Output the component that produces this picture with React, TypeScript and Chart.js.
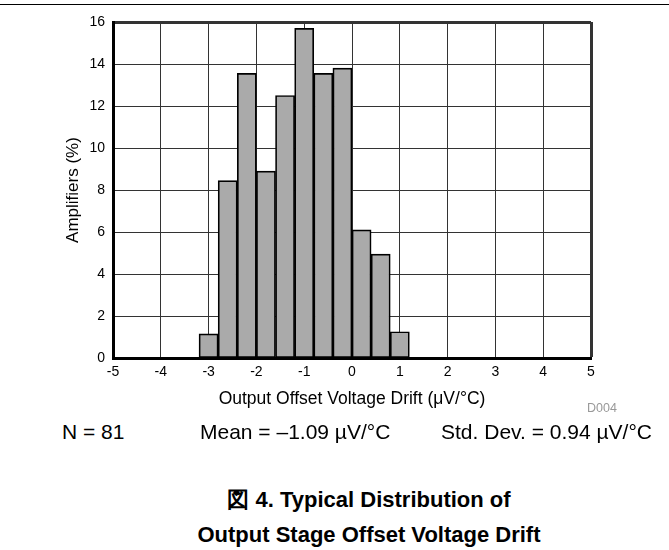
import React, { useEffect, useRef } from "react";
import { Chart, registerables } from "chart.js";

Chart.register(...registerables);

const binCenters = [-3.0, -2.6, -2.2, -1.8, -1.4, -1.0, -0.6, -0.2, 0.2, 0.6, 1.0];
const amplifiersPct = [1.15, 8.45, 13.55, 8.9, 12.5, 15.7, 13.55, 13.8, 6.1, 4.95, 1.25];
const xMin = -5;
const xMax = 5;
const yMin = 0;
const yMax = 16;

const statN = "N = 81";
const statMean = "Mean = \u20131.09 \u00b5V/\u00b0C";
const statStd = "Std. Dev. = 0.94 \u00b5V/\u00b0C";
const captionLines = ["\u56f3 4. Typical Distribution of", "Output Stage Offset Voltage Drift"];

const FONT = "'Liberation Sans', Arial, Helvetica, sans-serif";
const CANVAS_H = 420;

export default function App() {
  const ref = useRef<HTMLCanvasElement | null>(null);

  useEffect(() => {
    if (!ref.current) return;
    const chart = new Chart(ref.current, {
      type: "bar",
      data: {
        datasets: [
          {
            data: binCenters.map((x, i) => ({ x, y: amplifiersPct[i] })),
            backgroundColor: "#aaaaaa",
            borderColor: "#000000",
            borderWidth: 1.7,
            borderSkipped: false,
            barPercentage: 1,
            categoryPercentage: 1,
          } as any,
        ],
      },
      options: {
        animation: false,
        responsive: false,
        maintainAspectRatio: false,
        layout: { padding: { left: 0, right: 78, top: 22, bottom: 0 } },
        plugins: { legend: { display: false }, tooltip: { enabled: false } },
        scales: {
          x: {
            type: "linear",
            min: xMin,
            max: xMax,
            offset: false,
            afterFit: (s: any) => {
              s.height = CANVAS_H - 358;
            },
            ticks: {
              stepSize: 1,
              color: "#000",
              padding: 6,
              maxRotation: 0,
              font: { family: FONT, size: 14 },
              callback: (v: any) => String(v),
            },
            grid: {
              offset: false,
              drawTicks: false,
              color: "#333",
              lineWidth: (c: any) => (c.tick && c.tick.value === xMax ? 3 : 1),
            },
            border: { color: "#000", width: 3 },
            title: {
              display: true,
              text: "Output Offset Voltage Drift (\u03bcV/\u00b0C)",
              color: "#000",
              font: { family: FONT, size: 17.5 },
              padding: { top: 0, bottom: 10 },
            },
          },
          y: {
            type: "linear",
            min: yMin,
            max: yMax,
            afterFit: (s: any) => {
              s.width = 113;
            },
            ticks: {
              stepSize: 2,
              color: "#000",
              padding: 8,
              font: { family: FONT, size: 14 },
            },
            grid: {
              drawTicks: false,
              color: "#333",
              lineWidth: (c: any) => (c.tick && c.tick.value === yMax ? 3 : 1),
            },
            border: { color: "#000", width: 3 },
            title: {
              display: true,
              text: "Amplifiers (%)",
              color: "#000",
              font: { family: FONT, size: 17 },
              padding: { top: 63, bottom: 0 },
            },
          },
        },
      },
    });
    return () => chart.destroy();
  }, []);

  const textBase: React.CSSProperties = {
    position: "absolute",
    fontFamily: FONT,
    color: "#000",
    whiteSpace: "nowrap",
    lineHeight: "1",
  };

  return (
    <div style={{ position: "fixed", left: 0, top: 0, width: 669, height: 550, background: "#fff", overflow: "hidden" }}>
      <div style={{ position: "absolute", left: 0, top: 4, width: 669, height: 1, background: "#000" }} />
      <canvas ref={ref} width={669} height={CANVAS_H} style={{ position: "absolute", left: 0, top: 0, width: 669, height: CANVAS_H }} />
      <div style={{ ...textBase, left: 587, top: 402, fontSize: 12.5, color: "#999" }}>D004</div>
      <div style={{ ...textBase, left: 62, top: 421, fontSize: 21 }}>{statN}</div>
      <div style={{ ...textBase, left: 200, top: 421, fontSize: 21 }}>{statMean}</div>
      <div style={{ ...textBase, right: 17, top: 421, fontSize: 21 }}>{statStd}</div>
      <div
        style={{
          ...textBase,
          left: 369,
          top: 482,
          transform: "translateX(-50%)",
          fontSize: 22,
          fontWeight: "bold",
          textAlign: "center",
          lineHeight: "35px",
        }}
      >
        {captionLines.map((l, i) => (
          <div key={i}>{l}</div>
        ))}
      </div>
    </div>
  );
}
